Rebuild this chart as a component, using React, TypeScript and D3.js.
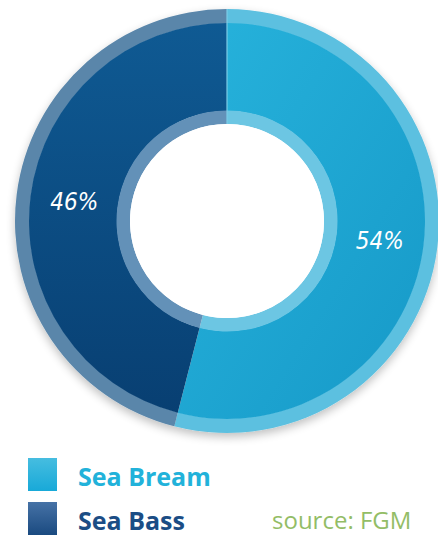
import React from "react";
import * as d3 from "d3";

const categories = ["Sea Bream", "Sea Bass"];
const shares = [54, 46];
const labels = ["54%", "46%"];
const source = "source: FGM";

const mainColors = [
  ["#27b3dc", "#1699c8"],
  ["#0f5a93", "#083f72"],
];
const bandColors = ["#5cc0e0", "#5a86aa"];
const innerBandColors = ["#6cc6e3", "#6391b8"];
const legendText = ["#22b2da", "#1b4d85"];
const legendSq = [
  ["#46bde0", "#18a9d8"],
  ["#4672a6", "#1a4a80"],
];

export default function App() {
  const W = 438;
  const H = 538;
  const cx = 227;
  const cy = 221;
  const pie = d3
    .pie<number>()
    .sort(null)
    .value((d) => d)
    .startAngle(0)
    .endAngle(Math.PI * 2);
  const arcsData = pie(shares);
  const mainArc = d3.arc<d3.PieArcDatum<number>>().innerRadius(110).outerRadius(198);
  const outerArc = d3.arc<d3.PieArcDatum<number>>().innerRadius(197.5).outerRadius(212);
  const innerArc = d3.arc<d3.PieArcDatum<number>>().innerRadius(97).outerRadius(110.5);
  const labelArc = d3.arc<d3.PieArcDatum<number>>().innerRadius(154).outerRadius(154);

  return (
    <svg
      width={W}
      height={H}
      style={{ position: "absolute", left: 0, top: 0, background: "#fff" }}
    >
      <defs>
        {mainColors.map((c, i) => (
          <linearGradient key={i} id={`g${i}`} x1="0" y1="0" x2={i === 0 ? "1" : "0"} y2="1">
            <stop offset="0%" stopColor={c[0]} />
            <stop offset="100%" stopColor={c[1]} />
          </linearGradient>
        ))}
        {legendSq.map((c, i) => (
          <linearGradient key={i} id={`l${i}`} x1="0" y1="0" x2="0" y2="1">
            <stop offset="0%" stopColor={c[0]} />
            <stop offset="100%" stopColor={c[1]} />
          </linearGradient>
        ))}
        <filter id="shadow" x="-20%" y="-20%" width="140%" height="140%">
          <feGaussianBlur in="SourceAlpha" stdDeviation="5" />
          <feOffset dx="0" dy="4" result="b" />
          <feComponentTransfer>
            <feFuncA type="linear" slope="0.25" />
          </feComponentTransfer>
          <feMerge>
            <feMergeNode />
            <feMergeNode in="SourceGraphic" />
          </feMerge>
        </filter>
      </defs>
      <g transform={`translate(${cx},${cy})`}>
        <g filter="url(#shadow)">
          {arcsData.map((d, i) => (
            <path key={"o" + i} d={outerArc(d) || ""} fill={bandColors[i]} />
          ))}
        </g>
        {arcsData.map((d, i) => (
          <path key={"m" + i} d={mainArc(d) || ""} fill={`url(#g${i})`} />
        ))}
        {arcsData.map((d, i) => (
          <path key={"i" + i} d={innerArc(d) || ""} fill={innerBandColors[i]} />
        ))}
        <line x1={0} y1={-212} x2={0} y2={-97} stroke="#7ccbe6" strokeWidth={1.2} />
        <circle r={97} fill="#ffffff" />
        {arcsData.map((d, i) => {
          const [x, y] = labelArc.centroid(d);
          return (
            <text
              key={"t" + i}
              x={x}
              y={y}
              dy="0.36em"
              textAnchor="middle"
              fill="#ffffff"
              fontFamily="'DejaVu Sans Condensed', 'DejaVu Sans', sans-serif"
              fontStyle="italic"
              fontWeight={400}
              fontSize={24}
            >
              {labels[i]}
            </text>
          );
        })}
      </g>
      {categories.map((c, i) => (
        <g key={c} transform={`translate(28,${458 + i * 44})`}>
          <rect width={29} height={33} fill={`url(#l${i})`} />
          <text
            x={50}
            y={28}
            fill={legendText[i]}
            fontFamily="'Open Sans', sans-serif"
            fontWeight={700}
            fontSize={25}
          >
            {c}
          </text>
        </g>
      ))}
      <text
        x={272}
        y={529}
        fill="#93bd66"
        fontFamily="'Open Sans', sans-serif"
        fontSize={24}
      >
        {source}
      </text>
    </svg>
  );
}
